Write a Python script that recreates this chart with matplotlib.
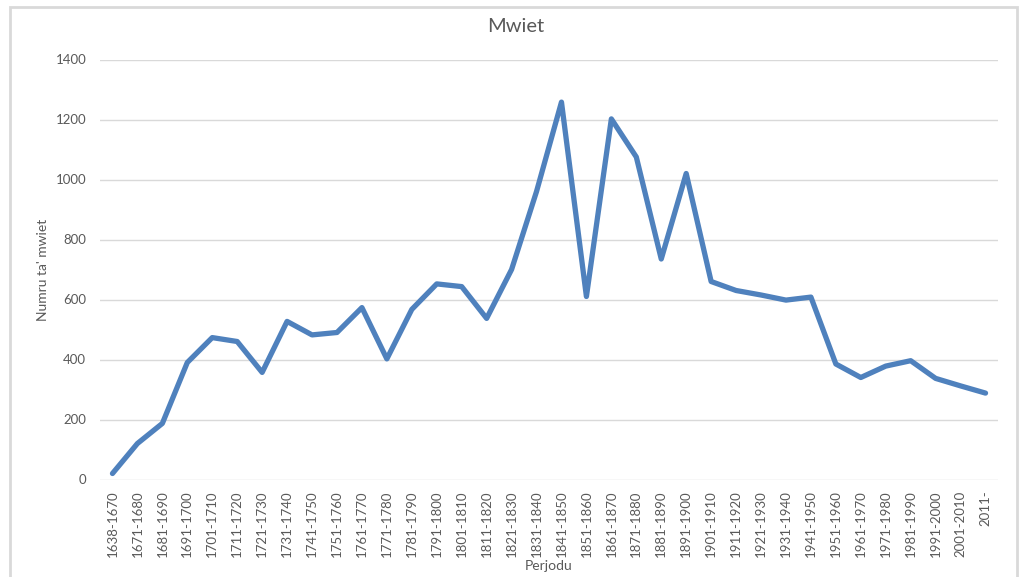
import matplotlib
matplotlib.use("Agg")
import matplotlib.pyplot as plt
from matplotlib.patches import Rectangle

periods = ["1638-1670"] + ["%d-%d" % (y + 1, y + 10) for y in range(1670, 2010, 10)] + ["2011-"]
deaths = [20, 120, 187, 390, 473, 460, 357, 527, 482, 490,
          573, 402, 567, 652, 643, 537, 700, 960, 1258, 610,
          1202, 1075, 735, 1020, 660, 630, 615, 598, 608, 385,
          340, 378, 396, 337, 312, 288]

TXT = "#595959"
plt.rcParams["font.family"] = ["Lato", "DejaVu Sans"]

fig = plt.figure(figsize=(10.27, 5.77), dpi=100)
ax = fig.add_axes([100 / 1027, 1 - 479.5 / 577, 898 / 1027, 420 / 577])

x = range(len(periods))
ax.plot(x, deaths, color="#4F81BD", lw=3.8, solid_joinstyle="round", solid_capstyle="round")

ax.set_xlim(-0.5, len(periods) - 0.5)
ax.set_ylim(0, 1400)
ax.set_yticks(range(0, 1401, 200))
ax.set_xticks(list(x))
ax.set_xticklabels(periods, rotation=90, fontsize=9.5, color=TXT)
ax.tick_params(axis="y", labelsize=9.5, labelcolor=TXT, length=0, pad=10)
ax.tick_params(axis="x", length=0, pad=8)
ax.grid(axis="y", color="#D9D9D9", lw=1)
ax.set_axisbelow(True)
for s in ax.spines.values():
    s.set_visible(False)

ax.set_ylabel("Numru ta' mwiet", fontsize=10, color=TXT)
ax.yaxis.set_label_coords(-0.057, 0.5)
ax.set_xlabel("Perjodu", fontsize=10, color=TXT, labelpad=2)
fig.text(516 / 1027, 1 - 26 / 577, "Mwiet", fontsize=14.5, color=TXT, ha="center", va="center")

fig.patches.append(Rectangle((9.5 / 1027, -0.05), 1007 / 1027, 1.05 - 7.5 / 577,
                             transform=fig.transFigure, fill=False, ec="#D9D9D9", lw=2))

fig.savefig("out.png", dpi=100)
